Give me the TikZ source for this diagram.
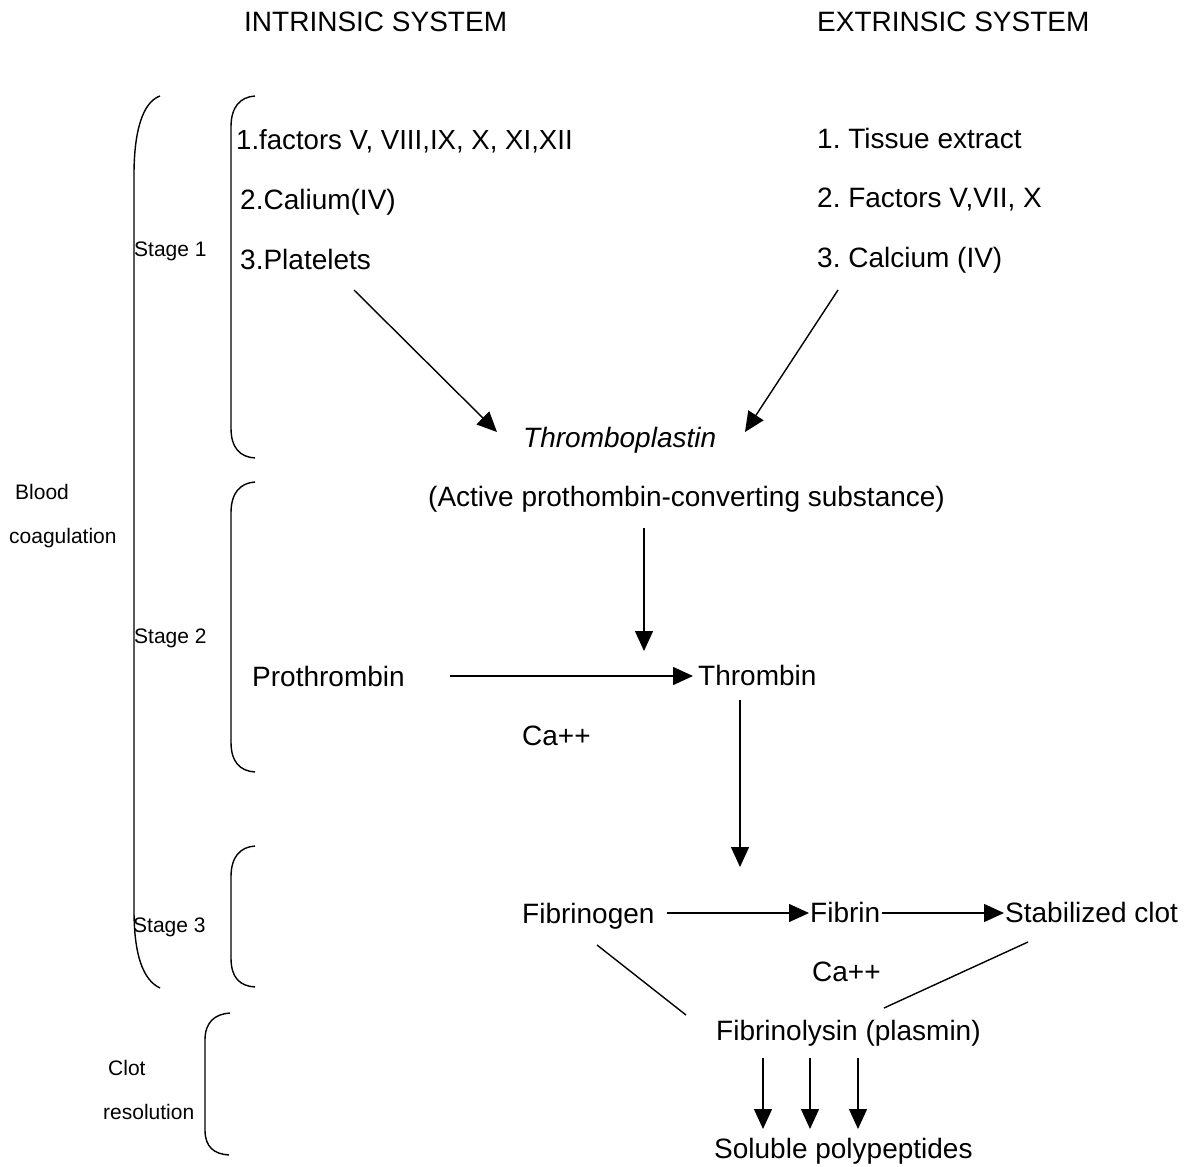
\documentclass[tikz,border=0pt]{standalone}
\usepackage{fontspec}
\setmainfont{Liberation Sans}
\usetikzlibrary{arrows.meta}
\frenchspacing
\begin{document}
\begin{tikzpicture}[x=1pt,y=-1pt,
  big/.style={anchor=base west,inner sep=0pt,font=\fontsize{28}{30}\selectfont},
  title/.style={anchor=base west,inner sep=0pt,font=\fontsize{28}{30}\selectfont},
  small/.style={anchor=base west,inner sep=0pt,font=\fontsize{21}{24}\selectfont},
  arr/.style={line width=1.4pt,-{Triangle[length=20pt,width=18pt]}},
  plain/.style={line width=1.4pt},
  brace/.style={line width=1.4pt}]
\useasboundingbox (0,0) rectangle (1189,1167);
% titles
\node[title] (intr) at (244,31) {INTRINSIC SYSTEM};
\node[title] (extr) at (817,31) {EXTRINSIC SYSTEM};
% intrinsic list
\node[big,font=\fontsize{27.6}{30}\selectfont] (i1) at (236,149) {1.factors V, VIII,IX, X, XI,XII};
\node[big] (i2) at (240,209) {2.Calium(IV)};
\node[big] (i3) at (240,269) {3.Platelets};
% extrinsic list
\node[big] (e1) at (817,148) {1. Tissue extract};
\node[big] (e2) at (817,207) {2. Factors V,VII, X};
\node[big] (e3) at (817,267) {3. Calcium (IV)};
% stage labels
\node[small] (s1) at (134,256) {Stage 1};
\node[small] (s2) at (134,643) {Stage 2};
\node[small] (s3) at (133,932) {Stage 3};
\node[small] (blood) at (15,499) {Blood};
\node[small] (coag) at (9,543) {coagulation};
\node[small] (clot) at (108,1075) {Clot};
\node[small] (resol) at (103,1119) {resolution};
% main nodes
\node[big,font=\fontsize{28}{30}\selectfont\itshape] (thrombo) at (523,447) {Thromboplastin};
\node[big] (active) at (428,506) {(Active prothombin-converting substance)};
\node[big] (prothr) at (252,686) {Prothrombin};
\node[big] (thrombin) at (698,685) {Thrombin};
\node[big] (ca1) at (522,745) {Ca++};
\node[big] (fibrinogen) at (522,923) {Fibrinogen};
\node[big] (fibrin) at (810,922) {Fibrin};
\node[big] (stab) at (1005,922) {Stabilized clot};
\node[big] (ca2) at (812,981) {Ca++};
\node[big] (fibrinol) at (716,1040) {Fibrinolysin (plasmin)};
\node[big] (soluble) at (714,1158) {Soluble polypeptides};
% connector end points
\coordinate (p1) at (354,290); \coordinate (p2) at (497,432);
\coordinate (c1) at (838,290); \coordinate (c2) at (745,432);
\coordinate (v1) at (644,528); \coordinate (v2) at (644,651);
\coordinate (h1) at (450,676); \coordinate (h2) at (693,676);
\coordinate (t1) at (740,700); \coordinate (t2) at (740,867);
\coordinate (f1) at (667,913); \coordinate (f2) at (809,913);
\coordinate (g1) at (882,913); \coordinate (g2) at (1004,913);
\coordinate (l1) at (597,945); \coordinate (l2) at (686,1015);
\coordinate (r1) at (1028,942); \coordinate (r2) at (884,1008);
% arrows
\draw[arr] (p1) -- (p2);
\draw[arr] (c1) -- (c2);
\draw[arr] (v1) -- (v2);
\draw[arr] (h1) -- (h2);
\draw[arr] (t1) -- (t2);
\draw[arr] (f1) -- (f2);
\draw[arr] (g1) -- (g2);
\draw[plain] (l1) -- (l2);
\draw[plain] (r1) -- (r2);
\foreach \xx/\nm in {763/a,810/b,858/c}{
  \coordinate (d\nm1) at (\xx,1058);
  \coordinate (d\nm2) at (\xx,1129);
  \draw[arr] (d\nm1) -- (d\nm2);
}
% braces
\draw[brace] (160,96) .. controls (143,102) and (134,130) .. (134,175)
  -- (134,910) .. controls (134,955) and (143,980) .. (160,988);
\draw[brace] (255,96) .. controls (240,97) and (231,107) .. (231,127)
  -- (231,428) .. controls (231,448) and (240,457) .. (255,458);
\draw[brace] (255,482) .. controls (240,483) and (231,493) .. (231,513)
  -- (231,742) .. controls (231,762) and (240,771) .. (255,772);
\draw[brace] (255,846) .. controls (240,847) and (231,857) .. (231,877)
  -- (231,958) .. controls (231,978) and (240,986) .. (255,987);
\draw[brace] (230,1013) .. controls (215,1014) and (205,1022) .. (205,1040)
  -- (205,1130) .. controls (205,1147) and (214,1154) .. (229,1155);
\end{tikzpicture}
\end{document}
